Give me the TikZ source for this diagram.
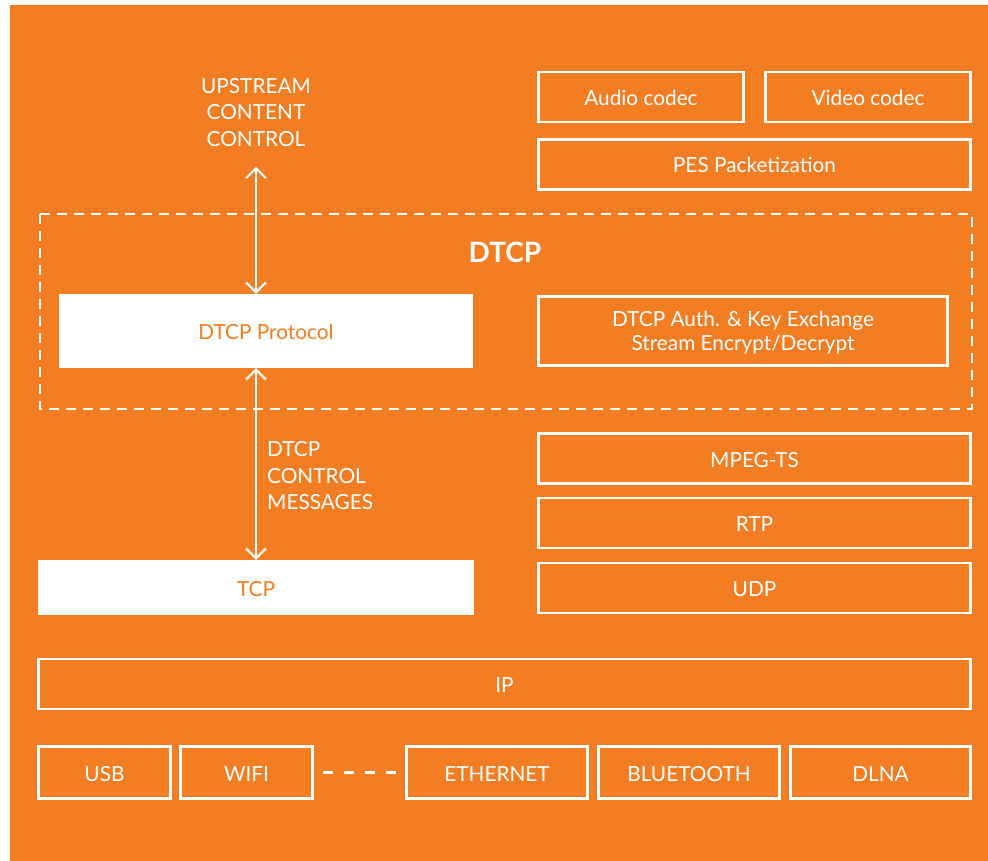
\documentclass[tikz,border=0pt]{standalone}
\usepackage{fontspec}
\setmainfont{Lato}
\usetikzlibrary{arrows.meta}
\definecolor{dtcporange}{RGB}{243,125,34}
\begin{document}
\begin{tikzpicture}[x=1pt,y=-1pt,
    box/.style={draw=white,line width=2.5pt,text=white,inner sep=0pt,minimum height=50pt},
    capline/.style={text height=17pt,text depth=0pt},
    layer/.style={box,capline},
    solid layer/.style={fill=white,text=dtcporange,inner sep=0pt,capline},
    caption/.style={text=white,inner sep=0pt,align=center},
    link/.style={white,line width=2pt,
      {Straight Barb[length=10pt,width=20pt]}-{Straight Barb[length=10pt,width=20pt]}}]
    \useasboundingbox (0,0) rectangle (988,861);
    \fill[dtcporange] (10,5) rectangle (988,861);
    \begin{scope}[font=\fontsize{20.8}{26.5}\selectfont]
      \node[layer,minimum width=205pt] (audio) at (641,97) {Audio codec};
      \node[layer,minimum width=205pt] (video) at (868,97) {Video codec};
      \node[layer,minimum width=432pt] (pes) at (754.5,164.5) {PES Packetization};
      \draw[white,line width=2.5pt,dash pattern=on 10pt off 7pt]
        (40,214) rectangle (972,409);
      \node[text=white,inner sep=0pt,text height=19.5pt,text depth=0pt,
        font=\bfseries\fontsize{28}{30}\selectfont] (dtcp) at (505,252.5) {DTCP};
      \node[solid layer,minimum width=414pt,minimum height=74pt] (proto) at (266,331) {DTCP Protocol};
      \node[box,minimum width=409pt,minimum height=69pt,align=center,text depth=-4pt,
        font=\fontsize{20.8}{24}\selectfont] (auth) at (743,331)
        {DTCP Auth. \& Key Exchange\\Stream Encrypt/Decrypt};
      \node[layer,minimum width=432pt] (mpeg) at (754.5,458.5) {MPEG-TS};
      \node[layer,minimum width=432pt] (rtp) at (754.5,523) {RTP};
      \node[layer,minimum width=432pt] (udp) at (754.5,588) {UDP};
      \node[solid layer,minimum width=436pt,minimum height=55pt] (tcp) at (256,587.5) {TCP};
      \node[layer,minimum width=932pt] (ip) at (504.5,684) {IP};
      \node[layer,minimum width=132pt,minimum height=52pt] (usb) at (104.5,772.5) {USB};
      \node[layer,minimum width=132pt,minimum height=52pt] (wifi) at (246.5,772.5) {WIFI};
      \node[layer,minimum width=181pt,minimum height=52pt] (eth) at (497,772.5) {ETHERNET};
      \node[layer,minimum width=181pt,minimum height=52pt] (bt) at (689,772.5) {BLUETOOTH};
      \node[layer,minimum width=180pt,minimum height=52pt] (dlna) at (880.5,772.5) {DLNA};
      \node[caption] (upstream) at (256,112.5) {UPSTREAM\\CONTENT\\CONTROL};
      \node[caption,anchor=west,align=left] (ctrl) at (267,476) {DTCP\\CONTROL\\MESSAGES};
    \end{scope}
    \draw[link,shorten <=20pt] (upstream.south) -- (upstream.south |- proto.north);
    \draw[link] (proto.south -| tcp.north) -- (tcp.north);
    \draw[white,line width=2.5pt,dash pattern=on 10pt off 11pt,shorten <=9pt,shorten >=8pt]
      (wifi.east) -- (eth.west);
\end{tikzpicture}
\end{document}
